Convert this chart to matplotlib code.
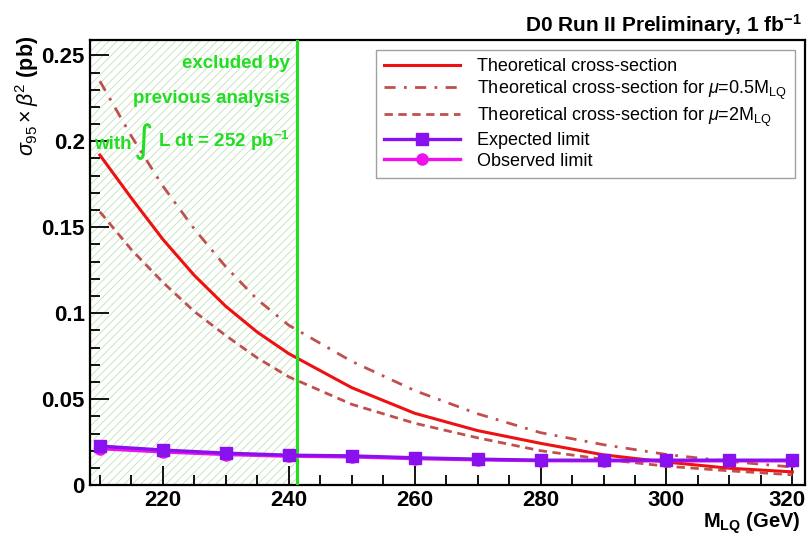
import numpy as np
import matplotlib.pyplot as plt
from matplotlib.ticker import MultipleLocator, FixedLocator
from matplotlib.transforms import ScaledTranslation

plt.rcParams["font.family"] = ["Liberation Sans", "DejaVu Sans"]
plt.rcParams["mathtext.fontset"] = "custom"
plt.rcParams["mathtext.rm"] = "Liberation Sans"
plt.rcParams["mathtext.it"] = "Liberation Sans:italic"
plt.rcParams["mathtext.bf"] = "Liberation Sans:bold"
plt.rcParams["hatch.linewidth"] = 0.6

# theory curves (GeV, pb)
theory_mass = [210, 215, 220, 225, 230, 235, 240, 250, 260, 270, 280, 290, 300, 310, 320]
theory = [0.192, 0.167, 0.143, 0.122, 0.104, 0.089, 0.0765, 0.0567, 0.0418, 0.0317,
          0.0243, 0.0176, 0.0134, 0.0098, 0.0077]
theory_mu05 = [0.235, 0.203, 0.174, 0.149, 0.127, 0.108, 0.093, 0.072, 0.055, 0.0415,
               0.0305, 0.0235, 0.0178, 0.0138, 0.0105]
theory_mu2 = [0.159, 0.137, 0.118, 0.101, 0.087, 0.074, 0.063, 0.047, 0.036, 0.0275,
              0.0200, 0.0150, 0.0110, 0.0083, 0.0060]

# limits (pb)
mass = [210, 220, 230, 240, 250, 260, 270, 280, 290, 300, 310, 320]
expected = [0.0227, 0.0204, 0.0186, 0.0174, 0.0170, 0.0159, 0.0151, 0.0145, 0.0145,
            0.0145, 0.0145, 0.0145]
observed = [0.0212, 0.0193, 0.0178, 0.0168, 0.0164, 0.0154, 0.0147, 0.0142, 0.0141,
            0.0141, 0.0141, 0.0141]

excluded_upto = 241.3
xmin, xmax = 208.4, 322

fig = plt.figure(figsize=(8.09, 5.39), dpi=100)
ax = fig.add_axes([0.111, 0.1, 0.884, 0.826])
ax.set_xlim(xmin, xmax)
ax.set_ylim(0, 0.259)

# excluded region
ax.axvspan(xmin, excluded_upto, facecolor="none", edgecolor="#bfe3b8",
           hatch="////", lw=0, zorder=0)
ax.axvline(excluded_upto, color="#22dd22", lw=2.2, zorder=3)

ax.plot(theory_mass, theory, color="#ee1111", lw=2.2, label="Theoretical cross-section")
ax.plot(theory_mass, theory_mu05, color="#c0504d", lw=2.0, ls=(0, (4, 3, 1, 3)),
        label=r"Theoretical cross-section for $\mu$=0.5M$_{\rm LQ}$")
ax.plot(theory_mass, theory_mu2, color="#c0504d", lw=2.0, ls=(0, (3, 2)),
        label=r"Theoretical cross-section for $\mu$=2M$_{\rm LQ}$")
ax.plot(mass, observed, color="#ee11ee", lw=2.4, marker="o", ms=8,
        label="Observed limit", zorder=4)
ax.plot(mass, expected, color="#8811ee", lw=2.4, marker="s", ms=8,
        label="Expected limit", zorder=5)

handles, labels = ax.get_legend_handles_labels()
order = [0, 1, 2, 4, 3]
leg = ax.legend([handles[i] for i in order], [labels[i] for i in order],
                loc="upper right", bbox_to_anchor=(0.993, 0.99), fontsize=13,
                frameon=True, fancybox=False, edgecolor="#888888",
                handlelength=4.2, handletextpad=0.9, labelspacing=0.2,
                borderpad=0.45, borderaxespad=0.3)
leg.get_frame().set_linewidth(1.0)

# green annotation
gtxt = dict(color="#22dd22", fontsize=13.5, fontweight="bold", ha="right")
ax.text(240.2, 0.2424, "excluded by", **gtxt)
ax.text(240.2, 0.2221, "previous analysis", **gtxt)
t_lum = ax.text(240.2, 0.1965, r"L dt = 252 pb$^{\mathbf{-1}}$", **gtxt)
ax.annotate("\u222b", xy=(0, 0), xycoords=t_lum, xytext=(-3, -5),
            textcoords="offset points", ha="right", va="bottom",
            color="#22dd22", fontsize=27, family="DejaVu Sans")
ax.annotate("with", xy=(0, 0), xycoords=t_lum, xytext=(-19, 0),
            textcoords="offset points", ha="right", va="bottom",
            color="#22dd22", fontsize=13.5, fontweight="bold")

# axes styling (ROOT-like)
ax.xaxis.set_major_locator(FixedLocator([220, 240, 260, 280, 300, 320]))
ax.xaxis.set_minor_locator(MultipleLocator(5))
ax.yaxis.set_minor_locator(MultipleLocator(0.01))
ax.set_yticks([0, 0.05, 0.1, 0.15, 0.2, 0.25])
ax.set_yticklabels(["0", "0.05", "0.1", "0.15", "0.2", "0.25"])
ax.tick_params(which="both", direction="in", labelsize=16, width=1.3)
ax.tick_params(which="major", length=14)
ax.tick_params(which="minor", length=7)
for lab in ax.get_xticklabels() + ax.get_yticklabels():
    lab.set_fontweight("bold")
# keep the last x label inside the canvas
last = ax.get_xticklabels()[-1]
last.set_transform(last.get_transform() + ScaledTranslation(-0.05, 0, fig.dpi_scale_trans))
for s in ax.spines.values():
    s.set_linewidth(1.6)

fig.text(0.991, 0.941, r"D0 Run II Preliminary, 1 fb$^{\mathbf{-1}}$",
         ha="right", va="baseline", fontsize=15, fontweight="bold")
fig.text(0.989, 0.021, r"M$_{\mathbf{LQ}}$ (GeV)", ha="right", va="baseline",
         fontsize=14.5, fontweight="bold")
fig.text(0.016, 0.933, r"$\sigma_{95}\times\beta^{2}$ (pb)", ha="left", va="top",
         rotation=90, fontsize=15.5, fontweight="bold")

fig.savefig("out.png", dpi=100)
